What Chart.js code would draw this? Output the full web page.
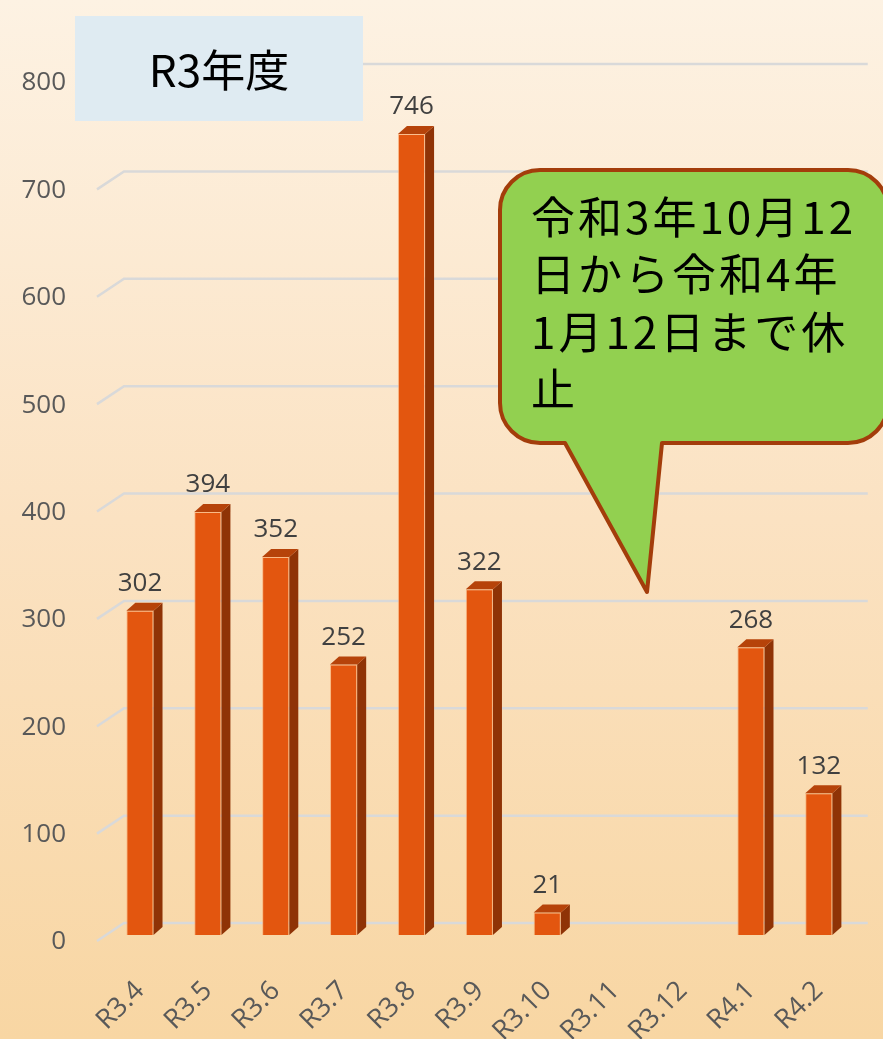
<!DOCTYPE html>
<html lang="ja">
<head>
<meta charset="utf-8">
<title>R3年度</title>
<script src="https://cdn.jsdelivr.net/npm/chart.js@4.4.1/dist/chart.umd.min.js"></script>
<style>
    html, body { margin: 0; padding: 0; }
    body { width: 883px; height: 1039px; overflow: hidden; background: #fbe3c0; }
</style>
</head>
<body>
<canvas id="chart" width="883" height="1039"></canvas>
<script>
const months = ['R3.4', 'R3.5', 'R3.6', 'R3.7', 'R3.8', 'R3.9', 'R3.10', 'R3.11', 'R3.12', 'R4.1', 'R4.2'];
const counts = [302, 394, 352, 252, 746, 322, 21, null, null, 268, 132];
const yTicks = [0, 100, 200, 300, 400, 500, 600, 700, 800];
const titleText = 'R3年度';
const noteLines = ['令和3年10月12', '日から令和4年', '1月12日まで休', '止'];

const DEPTH_X = 9;
const DEPTH_Y = -8;
const numFont = '"Open Sans", "Noto Sans", sans-serif';
const jpFont = '"Noto Sans CJK JP", sans-serif';

// page background: soft peach gradient
const backdrop = {
    id: 'backdrop',
    beforeDraw(chart) {
        const ctx = chart.ctx;
        const g = ctx.createLinearGradient(0, 0, 0, chart.height);
        g.addColorStop(0, '#fdf2e3');
        g.addColorStop(0.5, '#fbe2c2');
        g.addColorStop(1, '#f8d6a3');
        ctx.save();
        ctx.fillStyle = g;
        ctx.fillRect(0, 0, chart.width, chart.height);
        ctx.restore();
    }
};

// gridlines on the back wall with the slanted floor piece on the left
const backGrid = {
    id: 'backGrid',
    beforeDatasetsDraw(chart) {
        const {ctx, chartArea, scales} = chart;
        const y = scales.y;
        ctx.save();
        ctx.strokeStyle = '#d9d9d9';
        ctx.lineWidth = 2.5;
        yTicks.forEach(v => {
            const py = y.getPixelForValue(v);
            ctx.beginPath();
            ctx.moveTo(chartArea.left - 9, py + 6);
            ctx.lineTo(chartArea.left + 18, py - 12);
            ctx.lineTo(chartArea.right + 15, py - 12);
            ctx.stroke();
        });
        ctx.restore();
    }
};

// side + top faces for each bar, then the value labels
const bars3d = {
    id: 'bars3d',
    afterDatasetsDraw(chart) {
        const ctx = chart.ctx;
        const meta = chart.getDatasetMeta(0);
        ctx.save();
        meta.data.forEach((bar, i) => {
            if (counts[i] == null) return;
            const {x, y, base, width} = bar.getProps(['x', 'y', 'base', 'width'], true);
            const l = x - width / 2, r = x + width / 2;
            // side
            ctx.fillStyle = '#8f3306';
            ctx.beginPath();
            ctx.moveTo(r, y);
            ctx.lineTo(r + DEPTH_X, y + DEPTH_Y);
            ctx.lineTo(r + DEPTH_X, base + DEPTH_Y);
            ctx.lineTo(r, base);
            ctx.closePath();
            ctx.fill();
            // top
            ctx.fillStyle = '#b6430a';
            ctx.beginPath();
            ctx.moveTo(l, y);
            ctx.lineTo(l + DEPTH_X, y + DEPTH_Y);
            ctx.lineTo(r + DEPTH_X, y + DEPTH_Y);
            ctx.lineTo(r, y);
            ctx.closePath();
            ctx.fill();
            // value label
            ctx.fillStyle = '#404040';
            ctx.font = '26px ' + numFont;
            ctx.textAlign = 'center';
            ctx.textBaseline = 'middle';
            ctx.fillText(String(counts[i]), x, y - 27);
        });
        ctx.restore();
    }
};

function roundedPath(ctx, x0, y0, x1, y1, rad, tail) {
    ctx.beginPath();
    ctx.moveTo(x0 + rad, y0);
    ctx.lineTo(x1 - rad, y0);
    ctx.arcTo(x1, y0, x1, y0 + rad, rad);
    ctx.lineTo(x1, y1 - rad);
    ctx.arcTo(x1, y1, x1 - rad, y1, rad);
    ctx.lineTo(tail[2], y1);
    ctx.lineTo(tail[1][0], tail[1][1]);
    ctx.lineTo(tail[0], y1);
    ctx.lineTo(x0 + rad, y1);
    ctx.arcTo(x0, y1, x0, y1 - rad, rad);
    ctx.lineTo(x0, y0 + rad);
    ctx.arcTo(x0, y0, x0 + rad, y0, rad);
    ctx.closePath();
}

// title box and the speech bubble note
const notes = {
    id: 'notes',
    afterDraw(chart) {
        const ctx = chart.ctx;
        ctx.save();
        // title box
        ctx.fillStyle = '#dfebf2';
        ctx.fillRect(75, 16, 288, 105);
        ctx.fillStyle = '#000000';
        ctx.font = '44px ' + jpFont;
        ctx.textAlign = 'center';
        ctx.textBaseline = 'middle';
        ctx.fillText(titleText, 219, 70);

        // speech bubble
        roundedPath(ctx, 500, 170, 888, 443, 40, [565, [647, 592], 662]);
        ctx.fillStyle = '#92d050';
        ctx.fill();
        ctx.lineJoin = 'round';
        ctx.lineWidth = 4;
        ctx.strokeStyle = '#a33d0b';
        ctx.stroke();

        ctx.fillStyle = '#000000';
        ctx.font = '44px ' + jpFont;
        ctx.textAlign = 'left';
        ctx.textBaseline = 'middle';
        ctx.letterSpacing = '3px';
        noteLines.forEach((line, i) => {
            ctx.fillText(line, 531, 217 + i * 57.5);
        });
        ctx.restore();
    }
};

new Chart(document.getElementById('chart'), {
    type: 'bar',
    data: {
        labels: months,
        datasets: [{
            data: counts,
            backgroundColor: '#e3560f',
            borderColor: 'rgba(250, 170, 110, 0.7)',
            borderWidth: 1,
            categoryPercentage: 1,
            barPercentage: 0.4
        }]
    },
    options: {
        responsive: false,
        animation: false,
        events: [],
        layout: { padding: { left: 0, right: 28, top: 76, bottom: 0 } },
        plugins: {
            legend: { display: false },
            tooltip: { enabled: false }
        },
        scales: {
            x: {
                grid: { display: false, drawTicks: false },
                border: { display: false },
                ticks: {
                    autoSkip: false,
                    minRotation: 45,
                    maxRotation: 45,
                    padding: 40,
                    color: '#595959',
                    font: { family: numFont, size: 27 }
                },
                afterFit: s => { s.height = 104; }
            },
            y: {
                min: 0,
                max: 800,
                grid: { display: false, drawTicks: false },
                border: { display: false },
                afterBuildTicks: s => { s.ticks = yTicks.map(v => ({value: v})); },
                ticks: {
                    padding: 40,
                    labelOffset: 7,
                    color: '#595959',
                    font: { family: numFont, size: 26 }
                },
                afterFit: s => { s.width = 106; }
            }
        }
    },
    plugins: [backdrop, backGrid, bars3d, notes]
});
</script>
</body>
</html>
